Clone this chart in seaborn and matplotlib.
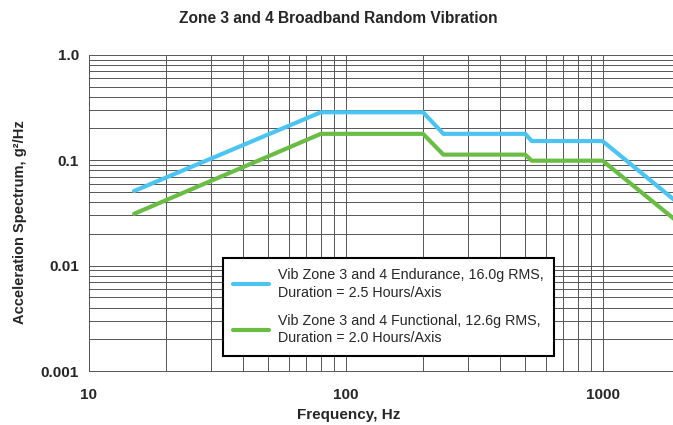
import pandas as pd
import matplotlib
matplotlib.use("Agg")
import matplotlib.pyplot as plt
import seaborn as sns
from matplotlib.ticker import FixedLocator, LogLocator, NullFormatter

# breakpoints of the two PSD profiles
freq_hz = [15, 80, 200, 240, 500, 530, 1000, 2000]
endurance_g2hz = [0.051, 0.285, 0.285, 0.178, 0.178, 0.152, 0.152, 0.038]
functional_g2hz = [0.031, 0.178, 0.178, 0.113, 0.113, 0.099, 0.099, 0.025]

labels = ["Vib Zone 3 and 4 Endurance, 16.0g RMS,\nDuration = 2.5 Hours/Axis",
          "Vib Zone 3 and 4 Functional, 12.6g RMS,\nDuration = 2.0 Hours/Axis"]
colors = ["#4CC4F2", "#69BD45"]

x_ticks = [10, 100, 1000]
x_ticklabels = ["10", "100", "1000"]
y_ticks = [0.001, 0.01, 0.1, 1.0]
y_ticklabels = ["0.001", "0.01", "0.1", "1.0"]

df = pd.DataFrame({
    "freq": freq_hz * 2,
    "psd": endurance_g2hz + functional_g2hz,
    "profile": [labels[0]] * len(freq_hz) + [labels[1]] * len(freq_hz),
})

sns.set_style("white")
plt.rcParams["font.family"] = ["Liberation Sans", "DejaVu Sans"]

fig = plt.figure(figsize=(6.73, 4.25), dpi=100)
ax = fig.add_axes([0.132, 0.127, 0.868, 0.744])

sns.lineplot(data=df, x="freq", y="psd", hue="profile", palette=colors,
             linewidth=3, ax=ax, sort=False)

ax.set_xscale("log")
ax.set_yscale("log")
ax.set_xlim(10, 1880)
ax.set_ylim(0.001, 1.0)

ax.xaxis.set_major_locator(FixedLocator(x_ticks))
ax.set_xticklabels(x_ticklabels)
ax.yaxis.set_major_locator(FixedLocator(y_ticks))
ax.set_yticklabels(y_ticklabels)
ax.xaxis.set_minor_locator(LogLocator(base=10, subs=range(2, 10)))
ax.yaxis.set_minor_locator(LogLocator(base=10, subs=range(2, 10)))
ax.xaxis.set_minor_formatter(NullFormatter())
ax.yaxis.set_minor_formatter(NullFormatter())

ax.grid(True, which="both", color="#555555", linewidth=0.7)
ax.tick_params(which="both", direction="out", length=4, width=0.7, color="#555555")
ax.tick_params(axis="x", which="major", labelsize=11, pad=8)
ax.tick_params(axis="y", which="major", labelsize=11, pad=3)
for lbl in ax.get_xticklabels() + ax.get_yticklabels():
    lbl.set_fontweight("bold")

for side in ["top", "right"]:
    ax.spines[side].set_visible(False)
for side in ["left", "bottom"]:
    ax.spines[side].set_color("#555555")
    ax.spines[side].set_linewidth(0.7)

fig.suptitle("Zone 3 and 4 Broadband Random Vibration", x=0.502, y=0.975,
             fontsize=11.2, fontweight="bold", va="top")
ax.set_xlabel("Frequency, Hz", fontsize=11, fontweight="bold")
ax.xaxis.set_label_coords(0.445, -0.117)
ax.set_ylabel("Acceleration Spectrum, g²/Hz", fontsize=10.5, fontweight="bold")
ax.yaxis.set_label_coords(-0.105, 0.47)

leg = ax.legend(loc="lower left", bbox_to_anchor=(0.229, 0.048), borderaxespad=0,
                fontsize=10.25, frameon=True, fancybox=False, handlelength=2.55,
                labelspacing=1.0, borderpad=0.74, handletextpad=0.6)
for t in leg.get_texts():
    t.set_linespacing(1.32)
leg.get_frame().set_edgecolor("black")
leg.get_frame().set_linewidth(1.5)
leg.get_frame().set_alpha(1)

fig.savefig("out.png", dpi=100)
